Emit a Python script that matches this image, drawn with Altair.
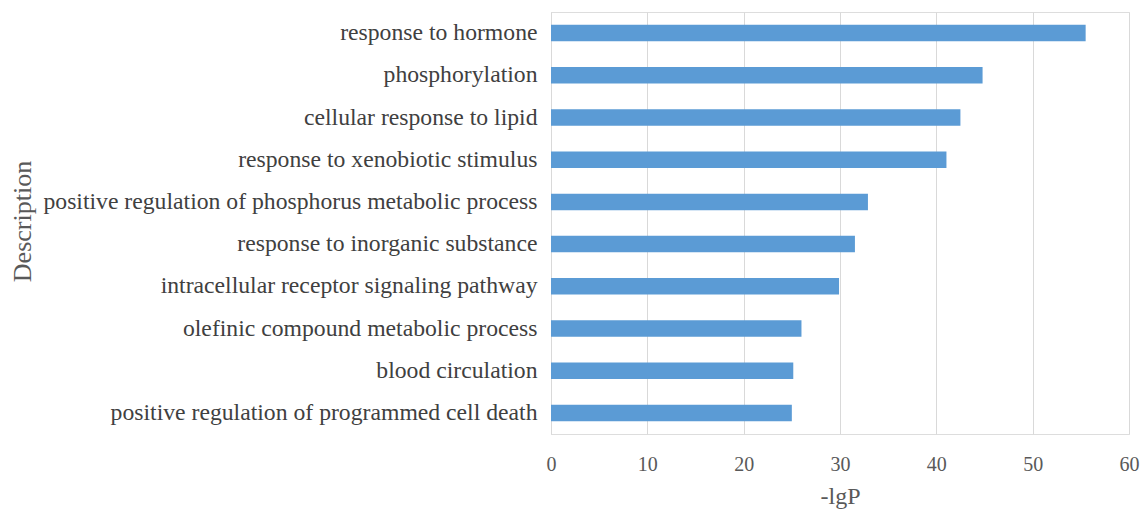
import altair as alt
import pandas as pd

descriptions = [
    "response to hormone",
    "phosphorylation",
    "cellular response to lipid",
    "response to xenobiotic stimulus",
    "positive regulation of phosphorus metabolic process",
    "response to inorganic substance",
    "intracellular receptor signaling pathway",
    "olefinic compound metabolic process",
    "blood circulation",
    "positive regulation of programmed cell death",
]
neg_lg_p = [55.5, 44.8, 42.5, 41.05, 32.9, 31.55, 29.9, 26.0, 25.15, 25.0]
x_ticks = [0, 10, 20, 30, 40, 50, 60]

df = pd.DataFrame({"Description": descriptions, "-lgP": neg_lg_p})

FONT = "Liberation Serif"

chart = alt.Chart(df).mark_bar(color="#5B9BD5").encode(
    x=alt.X(
        "-lgP:Q",
        scale=alt.Scale(domain=[0, 60], nice=False, zero=True),
        axis=alt.Axis(
            values=x_ticks,
            title="-lgP",
            grid=True,
            gridColor="#D9D9D9",
            gridWidth=1,
            domain=False,
            ticks=False,
            labelFlush=False,
            labelFont=FONT,
            labelFontSize=20,
            labelColor="#595959",
            labelPadding=20,
            titleFont=FONT,
            titleFontSize=24,
            titleFontWeight="normal",
            titleColor="#595959",
            titleBaseline="alphabetic",
            titleY=69,
        ),
    ),
    y=alt.Y(
        "Description:N",
        sort=None,
        scale=alt.Scale(paddingInner=0.61, paddingOuter=0.305),
        axis=alt.Axis(
            title="Description",
            domain=True,
            domainColor="#D9D9D9",
            ticks=False,
            labelFont=FONT,
            labelFontSize=23.7,
            labelColor="#404040",
            labelPadding=14,
            labelLimit=600,
            titleFont=FONT,
            titleFontSize=26,
            titleFontWeight="normal",
            titleColor="#595959",
            titleAngle=-90,
            titleAlign="center",
            titleBaseline="middle",
            titleX=-529,
            titleY=209,
        ),
    ),
).properties(
    width=578,
    height=422,
    autosize=alt.AutoSizeParams(type="none"),
    padding={"left": 543, "top": 4, "right": 11, "bottom": 75},
).configure_view(stroke=None).configure(background="white")

chart.save("out.html", embed_options={"renderer": "svg", "actions": False})
